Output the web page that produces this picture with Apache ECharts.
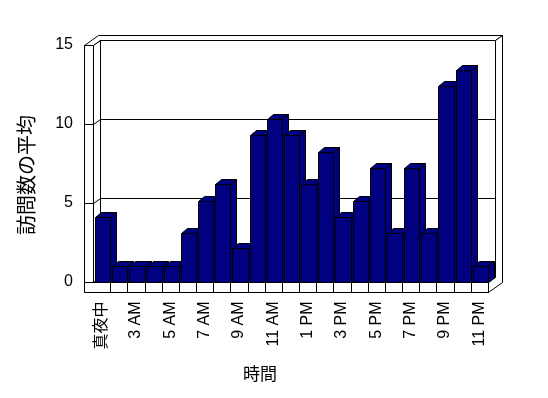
<!DOCTYPE html>
<html>
<head>
<meta charset="utf-8">
<script src="https://cdn.jsdelivr.net/npm/echarts@6/dist/echarts.min.js"></script>
<style>html,body{margin:0;padding:0;background:#fff;}#c{width:548px;height:398px;}</style>
</head>
<body>
<div id="c"></div>
<script>
const categories = ['真夜中','2 AM','3 AM','4 AM','5 AM','6 AM','7 AM','8 AM','9 AM','10 AM','11 AM','正午','1 PM','2 PM','3 PM','4 PM','5 PM','6 PM','7 PM','8 PM','9 PM','10 PM','11 PM'];
const values = [4.1, 1.0, 1.0, 1.0, 1.0, 3.1, 5.1, 6.2, 2.1, 9.3, 10.3, 9.3, 6.2, 8.2, 4.1, 5.1, 7.2, 3.1, 7.2, 3.1, 12.4, 13.4, 1.0];
const yTicks = [0, 5, 10, 15];
const xTitle = '時間';
const yTitle = '訪問数の平均';

const FONT = "'Liberation Sans', 'Noto Sans CJK JP', sans-serif";
const s = v => Math.round(v) + 0.5;
const P = pts => pts.map(p => [s(p[0]), s(p[1])]);
const LINE = { stroke: '#000', lineWidth: 1, fill: null };
const FACE = { stroke: '#000', lineWidth: 1, fill: '#fff' };

function renderFrame(params, api) {
  const cs = params.coordSys;
  const x0 = cs.x, x1 = cs.x + cs.width;
  const yv = v => api.coord([0, v])[1];
  const y0 = yv(yTicks[0]), yT = yv(yTicks[yTicks.length - 1]);
  const W = 9, dx = 7, dy = -5, fh = 10;
  const band = api.size([1, 0])[0];
  const ch = [];
  ch.push({ type: 'polygon', shape: { points: P([[x0+dx,yT+dy],[x1+dx,yT+dy],[x1+dx,y0+dy],[x0+dx,y0+dy]]) }, style: FACE });
  yTicks.slice(1, -1).forEach(v => {
    const y = yv(v);
    ch.push({ type: 'polyline', shape: { points: P([[x0+dx,y+dy],[x1+dx,y+dy]]) }, style: LINE });
  });
  ch.push({ type: 'polygon', shape: { points: P([[x0-W,yT],[x0,yT],[x0+dx,yT+dy],[x1+dx,yT+dy],[x1+2*dx,yT+2*dy],[x0-W+2*dx,yT+2*dy]]) }, style: FACE });
  ch.push({ type: 'polygon', shape: { points: P([[x0-W,yT],[x0,yT],[x0,y0+fh],[x0-W,y0+fh]]) }, style: FACE });
  ch.push({ type: 'polygon', shape: { points: P([[x0,yT],[x0+dx,yT+dy],[x0+dx,y0+dy],[x0,y0]]) }, style: FACE });
  yTicks.slice(1, -1).forEach(v => {
    const y = yv(v);
    ch.push({ type: 'polyline', shape: { points: P([[x0-W,y],[x0,y],[x0+dx,y+dy]]) }, style: LINE });
  });
  ch.push({ type: 'polygon', shape: { points: P([[x0,y0],[x1,y0],[x1+dx,y0+dy],[x0+dx,y0+dy]]) }, style: FACE });
  ch.push({ type: 'polygon', shape: { points: P([[x0-W,y0],[x1,y0],[x1,y0+fh],[x0-W,y0+fh]]) }, style: FACE });
  for (let k = 1; k < categories.length; k++) {
    const x = x0 + k * band;
    ch.push({ type: 'polyline', shape: { points: P([[x,y0],[x,y0+fh]]) }, style: LINE });
  }
  ch.push({ type: 'polygon', shape: { points: P([[x1+dx,yT+dy],[x1+2*dx,yT+2*dy],[x1+2*dx,y0+fh+2*dy],[x1,y0+fh],[x1,y0],[x1+dx,y0+dy]]) }, style: FACE });
  return { type: 'group', children: ch };
}

function renderBar(params, api) {
  const i = api.value(0), v = api.value(1);
  const c = api.coord([i, v]);
  const b = api.coord([i, 0]);
  const band = api.size([1, 0])[0];
  const l = c[0] - band / 2 + 2, r = c[0] + band / 2;
  const y1 = c[1], y0 = b[1];
  const bdx = 6, bdy = -5;
  const st = { fill: '#000080', stroke: '#000', lineWidth: 1 };
  return {
    type: 'group',
    children: [
      { type: 'polygon', shape: { points: P([[r,y1],[r+bdx,y1+bdy],[r+bdx,y0+bdy],[r,y0]]) }, style: st },
      { type: 'polygon', shape: { points: P([[l,y1],[r,y1],[r,y0],[l,y0]]) }, style: st },
      { type: 'polygon', shape: { points: P([[l,y1],[l+bdx,y1+bdy],[r+bdx,y1+bdy],[r,y1]]) }, style: st }
    ]
  };
}

const chart = echarts.init(document.getElementById('c'), null, { renderer: 'canvas' });
chart.setOption({
  animation: false,
  backgroundColor: '#fff',
  grid: { left: 93, right: 60, top: 45, bottom: 116.5 },
  xAxis: {
    type: 'category',
    data: categories,
    axisLine: { show: false },
    axisTick: { show: false },
    axisLabel: { interval: 1, rotate: 90, margin: 20, color: '#000', fontSize: 16, fontFamily: FONT }
  },
  yAxis: {
    type: 'value',
    min: yTicks[0], max: yTicks[yTicks.length - 1], interval: 5,
    axisLine: { show: false },
    axisTick: { show: false },
    splitLine: { show: false },
    axisLabel: { margin: 20, color: '#000', fontSize: 16, fontFamily: FONT }
  },
  graphic: [
    { type: 'text', x: 260, y: 375, style: { text: xTitle, fontSize: 17, fontFamily: FONT, fill: '#000', align: 'center', verticalAlign: 'middle' } },
    { type: 'text', x: 28, y: 175, rotation: Math.PI / 2, style: { text: yTitle, fontSize: 20, fontFamily: FONT, fill: '#000', align: 'center', verticalAlign: 'middle' } }
  ],
  series: [
    { type: 'custom', z: 1, silent: true, data: [[0, 0]], renderItem: renderFrame },
    { type: 'custom', z: 2, data: values.map((v, i) => [i, v]), encode: { x: 0, y: 1 }, renderItem: renderBar }
  ]
});
</script>
</body>
</html>
